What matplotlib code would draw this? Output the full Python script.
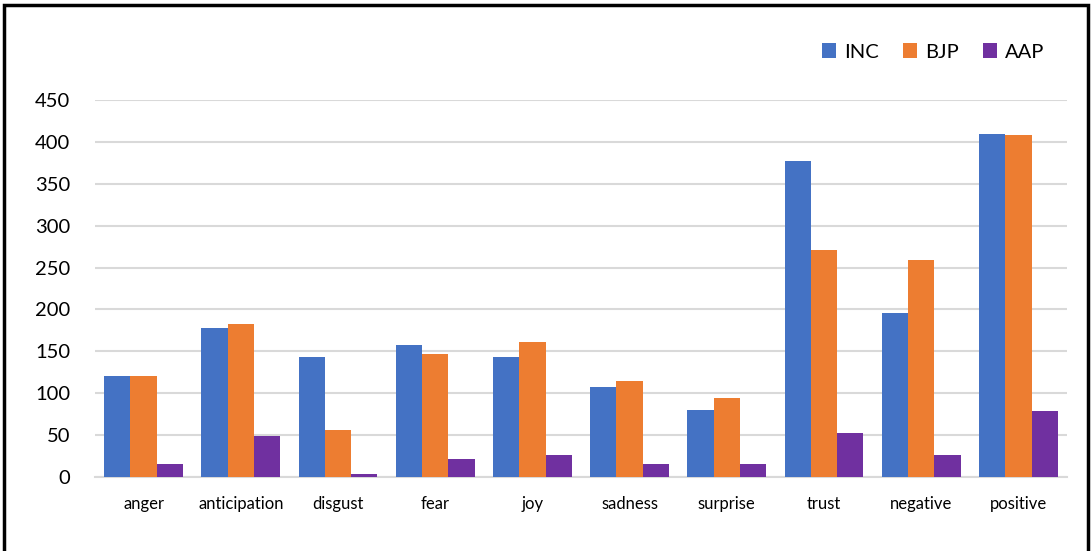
import numpy as np
import matplotlib
matplotlib.use("Agg")
import matplotlib.pyplot as plt
from matplotlib.patches import Rectangle

categories = ["anger", "anticipation", "disgust", "fear", "joy",
              "sadness", "surprise", "trust", "negative", "positive"]
inc = [120, 178, 143, 157, 143, 108, 80, 377, 196, 410]
bjp = [121, 183, 56, 147, 161, 115, 94, 271, 259, 408]
aap = [16, 49, 4, 21, 26, 15, 15, 52, 26, 79]

series = [("INC", inc, "#4472C4"), ("BJP", bjp, "#ED7D31"), ("AAP", aap, "#7030A0")]

plt.rcParams['font.family'] = ['Lato', 'DejaVu Sans']

fig = plt.figure(figsize=(10.92, 5.51), dpi=100)
ax = fig.add_axes([95 / 1092, 1 - 477 / 551, (1067 - 95) / 1092, (477 - 100) / 551])

x = np.arange(len(categories))
w = 0.27
for i, (name, vals, col) in enumerate(series):
    ax.bar(x + (i - 1) * w, vals, w, color=col, label=name, zorder=3)

ax.set_xlim(-0.5, len(categories) - 0.5)
ax.set_ylim(0, 450)
ax.set_yticks(range(0, 451, 50))
ax.set_xticks(x)
ax.set_xticklabels(categories, fontsize=12)
ax.tick_params(axis='y', labelsize=14.5, length=0, pad=18)
ax.tick_params(axis='x', length=0, pad=14)
ax.grid(axis='y', color='#d9d9d9', linewidth=1.5, zorder=0)
for s in ['top', 'right', 'left']:
    ax.spines[s].set_visible(False)
ax.spines['bottom'].set_color('#d9d9d9')
ax.spines['bottom'].set_linewidth(1.5)

fig.legend(loc='center', bbox_to_anchor=(933 / 1092, 1 - 52 / 551), ncol=3,
           frameon=False, fontsize=14.5, handlelength=0.7, handleheight=0.7,
           columnspacing=1.2, handletextpad=0.4)

# outer border of the chart frame
fig.patches.append(Rectangle((4 / 1092, -0.1), (1088 - 4) / 1092, 1.1 - 5 / 551,
                             transform=fig.transFigure, fill=False,
                             edgecolor='black', linewidth=2.5))

fig.savefig("out.png", dpi=100)
